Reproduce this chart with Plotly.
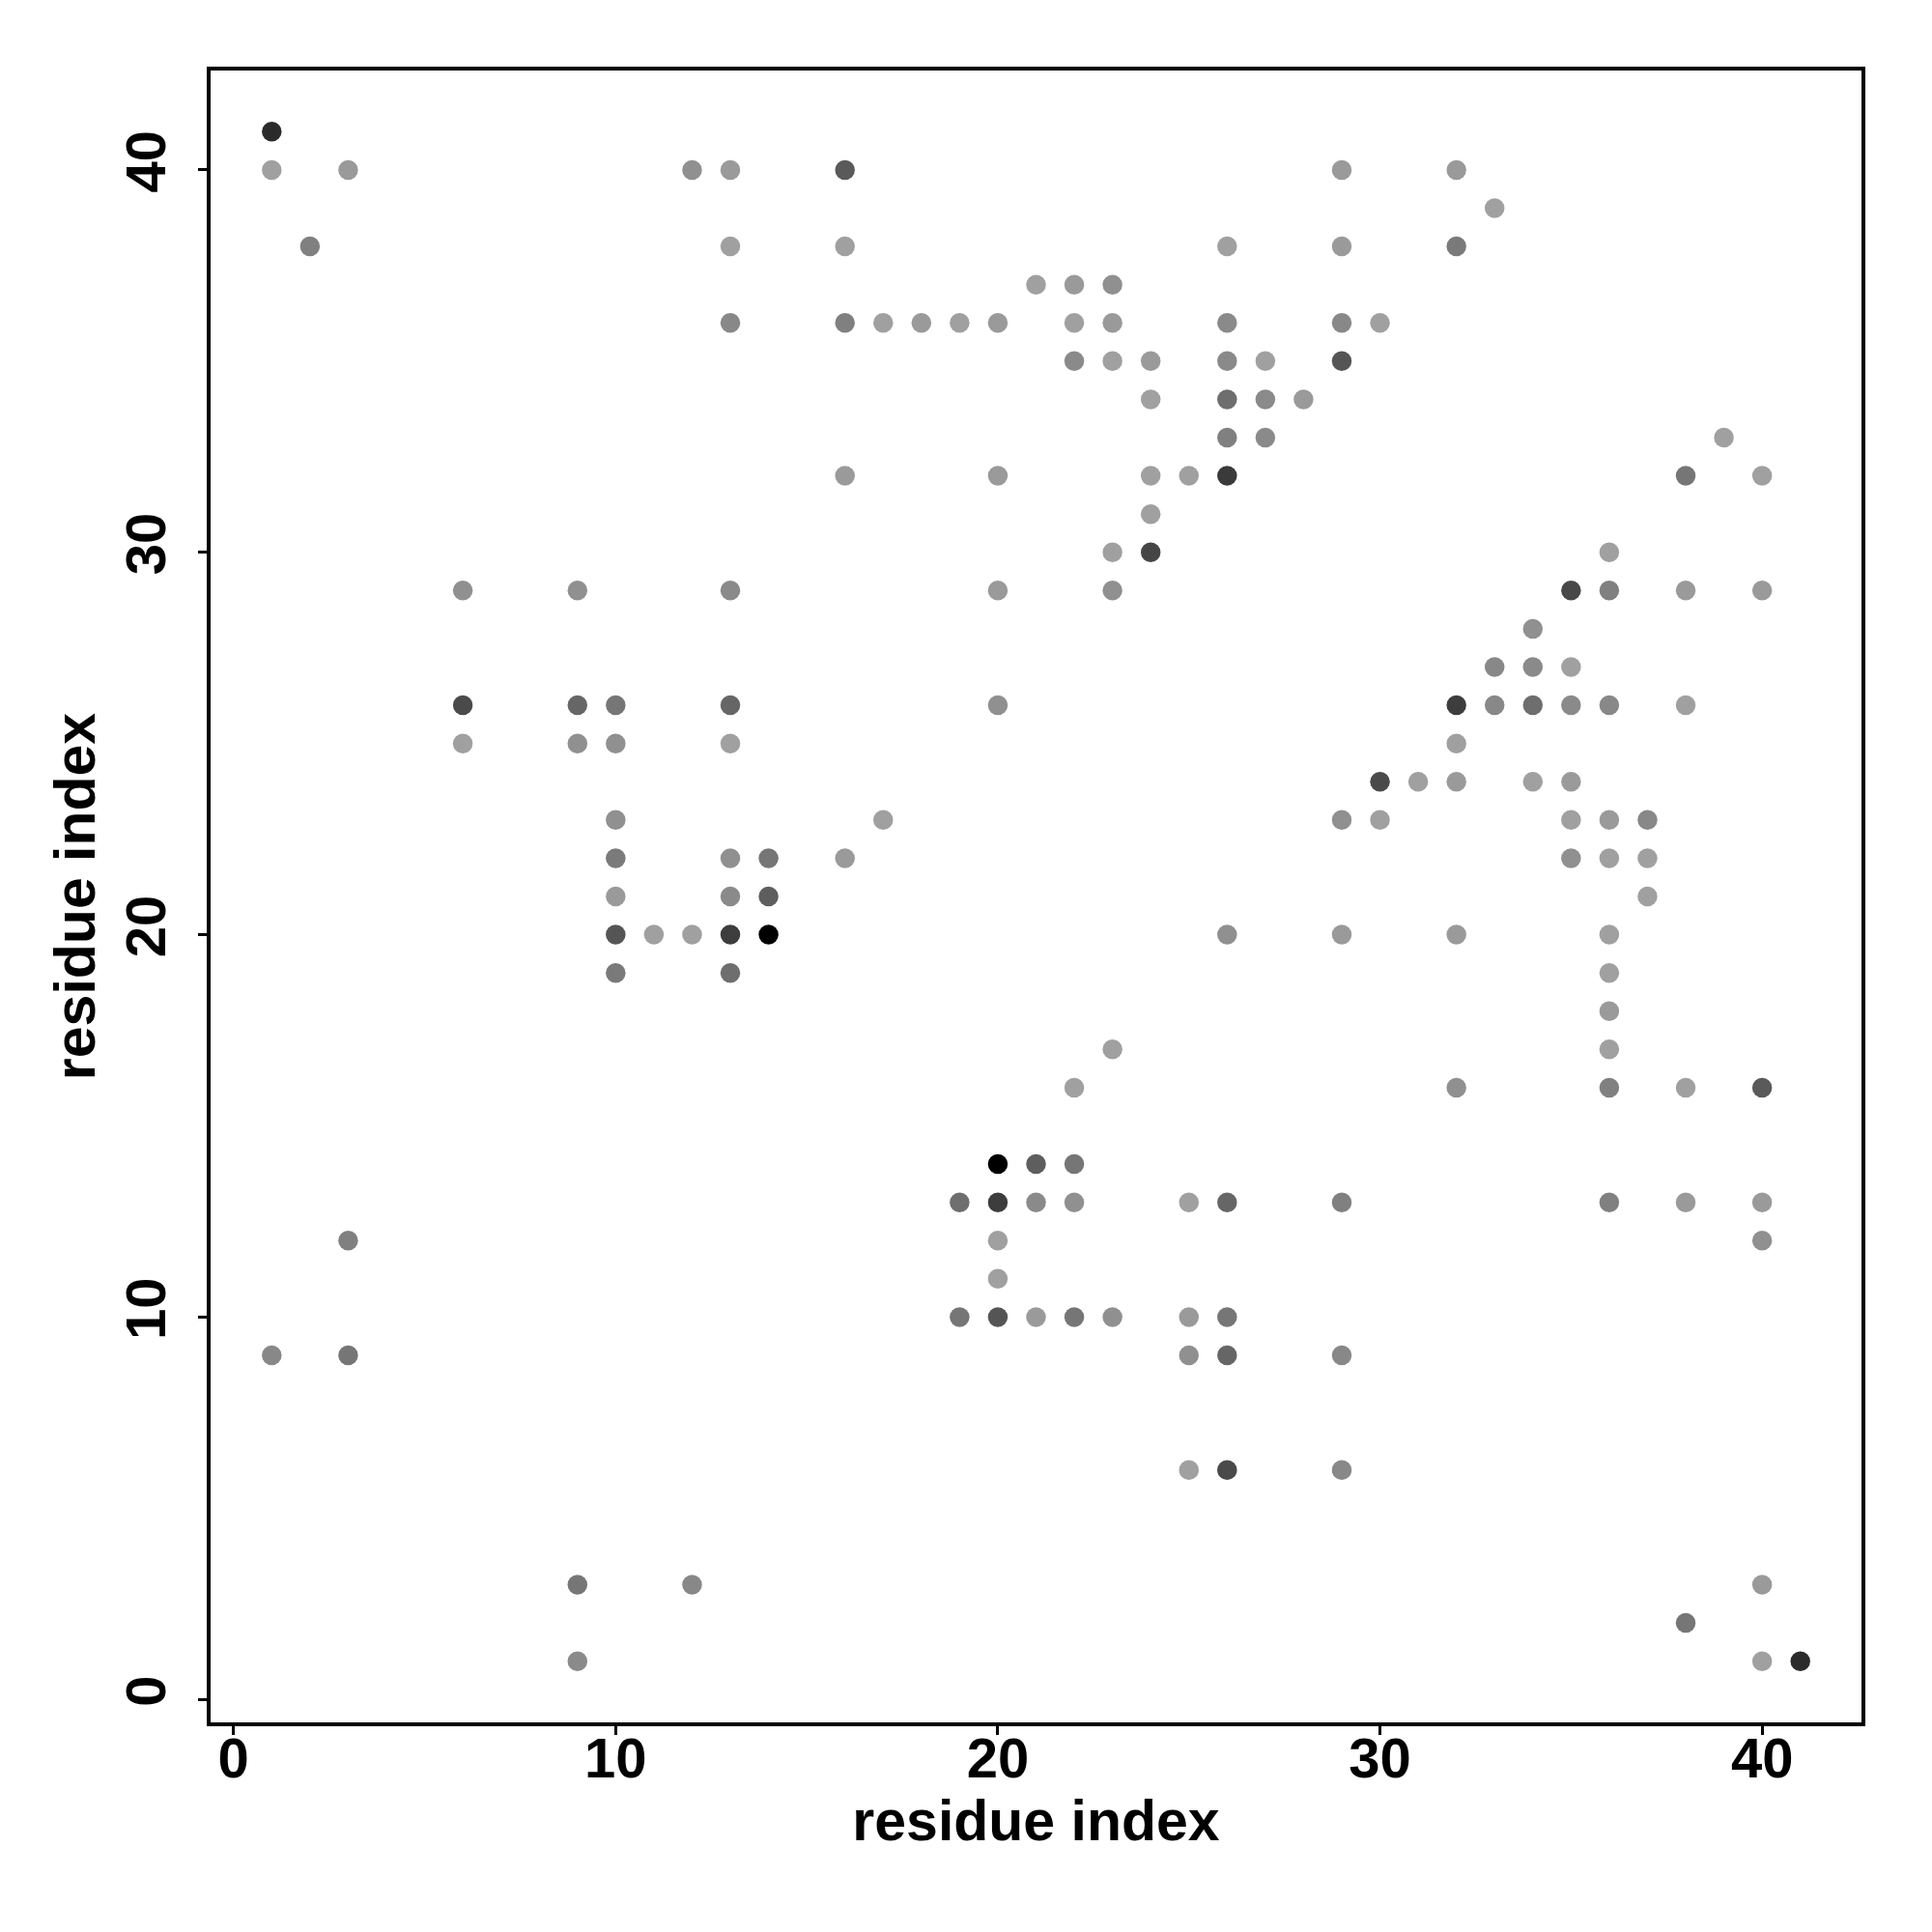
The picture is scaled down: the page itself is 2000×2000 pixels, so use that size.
import plotly.graph_objects as go

# residue pairs (x, y) and contact strength (0 = weakest/lightest, 1 = strongest/black)
res_x = [1,
         1, 3, 12, 13, 16, 29, 32,
         33,
         2, 13, 16, 26, 29, 32,
         21, 22, 23,
         13, 16, 17, 18, 19, 20, 22, 23, 26, 29, 30,
         22, 23, 24, 26, 27, 29,
         24, 26, 27, 28,
         26, 27, 39,
         16, 20, 24, 25, 26, 38, 40,
         24,
         23, 24, 36,
         6, 9, 13, 20, 23, 35, 36, 38, 40,
         34,
         33, 34, 35,
         6, 9, 10, 13, 20, 32, 33, 34, 35, 36, 38,
         6, 9, 10, 13, 32,
         30, 31, 32, 34, 35,
         10, 17, 29, 30, 35, 36, 37,
         10, 13, 14, 16, 35, 36, 37,
         10, 13, 14, 37,
         10, 11, 12, 13, 14, 26, 29, 32, 36,
         10, 13, 36,
         36,
         23, 36,
         22, 32, 36, 38, 40,
         20, 21, 22,
         19, 20, 21, 22, 25, 26, 29, 36, 38, 40,
         3, 20, 40,
         20,
         19, 20, 21, 22, 23, 25, 26,
         1, 3, 25, 26, 29,
         25, 26, 29,
         9, 12, 40,
         38,
         9, 40, 41]

res_y = [41,
         40, 40, 40, 40, 40, 40, 40,
         39,
         38, 38, 38, 38, 38, 38,
         37, 37, 37,
         36, 36, 36, 36, 36, 36, 36, 36, 36, 36, 36,
         35, 35, 35, 35, 35, 35,
         34, 34, 34, 34,
         33, 33, 33,
         32, 32, 32, 32, 32, 32, 32,
         31,
         30, 30, 30,
         29, 29, 29, 29, 29, 29, 29, 29, 29,
         28,
         27, 27, 27,
         26, 26, 26, 26, 26, 26, 26, 26, 26, 26, 26,
         25, 25, 25, 25, 25,
         24, 24, 24, 24, 24,
         23, 23, 23, 23, 23, 23, 23,
         22, 22, 22, 22, 22, 22, 22,
         21, 21, 21, 21,
         20, 20, 20, 20, 20, 20, 20, 20, 20,
         19, 19, 19,
         18,
         17, 17,
         16, 16, 16, 16, 16,
         14, 14, 14,
         13, 13, 13, 13, 13, 13, 13, 13, 13, 13,
         12, 12, 12,
         11,
         10, 10, 10, 10, 10, 10, 10,
         9, 9, 9, 9, 9,
         6, 6, 6,
         3, 3, 3,
         2,
         1, 1, 1]

strength = [0.73,
            0.00, 0.04, 0.10, 0.04, 0.44, 0.04, 0.04,
            0.00,
            0.20, 0.00, 0.00, 0.00, 0.04, 0.24,
            0.00, 0.04, 0.10,
            0.15, 0.20, 0.00, 0.04, 0.00, 0.04, 0.00, 0.04, 0.14, 0.15, 0.00,
            0.14, 0.00, 0.04, 0.14, 0.00, 0.47,
            0.00, 0.31, 0.14, 0.04,
            0.20, 0.14, 0.00,
            0.04, 0.04, 0.00, 0.00, 0.64, 0.26, 0.00,
            0.00,
            0.00, 0.57, 0.00,
            0.10, 0.10, 0.14, 0.04, 0.10, 0.55, 0.20, 0.04, 0.04,
            0.10,
            0.15, 0.14, 0.00,
            0.54, 0.36, 0.26, 0.36, 0.10, 0.62, 0.15, 0.31, 0.14, 0.15, 0.00,
            0.00, 0.10, 0.10, 0.00, 0.00,
            0.54, 0.00, 0.04, 0.00, 0.04,
            0.10, 0.00, 0.10, 0.00, 0.00, 0.04, 0.15,
            0.24, 0.10, 0.26, 0.04, 0.10, 0.00, 0.00,
            0.04, 0.14, 0.41, 0.00,
            0.47, 0.00, 0.00, 0.62, 1.00, 0.10, 0.04, 0.04, 0.00,
            0.24, 0.31, 0.00,
            0.04,
            0.00, 0.00,
            0.00, 0.10, 0.20, 0.00, 0.44,
            1.00, 0.41, 0.26,
            0.31, 0.62, 0.14, 0.10, 0.00, 0.36, 0.20, 0.20, 0.04, 0.04,
            0.20, 0.00, 0.10,
            0.00,
            0.26, 0.47, 0.04, 0.26, 0.10, 0.04, 0.26,
            0.15, 0.26, 0.10, 0.36, 0.15,
            0.00, 0.54, 0.15,
            0.26, 0.15, 0.04,
            0.26,
            0.14, 0.00, 0.73]

tick_vals = [0, 10, 20, 30, 40]
tick_text = ["0", "10", "20", "30", "40"]
axis_label = "residue index"

FONT = "Liberation Sans"

fig = go.Figure(
    go.Scatter(
        x=res_x, y=res_y, mode="markers",
        marker=dict(
            size=20.5, color=strength, cmin=0, cmax=1,
            colorscale=[[0, "rgb(160,160,160)"], [1, "rgb(0,0,0)"]],
            showscale=False, line=dict(width=0),
        ),
        hoverinfo="x+y",
    )
)

axis_common = dict(
    showgrid=False, zeroline=False,
    showline=True, linecolor="black", linewidth=3.5, mirror=True,
    ticks="outside", ticklen=9, tickwidth=3, tickcolor="black",
    tickmode="array", tickvals=tick_vals, ticktext=tick_text,
    tickfont=dict(family=FONT, size=58, color="black", weight="bold"),
)

fig.update_xaxes(
    range=[-0.6, 42.6], **axis_common,
    ticklabelstandoff=-25,
    title=dict(text=axis_label, standoff=13,
               font=dict(family=FONT, size=59, color="black", weight="bold")),
)
fig.update_yaxes(
    range=[-0.6, 42.6], **axis_common,
    tickangle=-90, ticklabelstandoff=11,
    title=dict(text=axis_label, standoff=1,
               font=dict(family=FONT, size=59, color="black", weight="bold")),
)

fig.update_layout(
    width=2000, height=2000,
    margin=dict(l=210, r=81, t=65, b=225),
    plot_bgcolor="white", paper_bgcolor="white",
    showlegend=False,
)

fig.write_html("out.html")
